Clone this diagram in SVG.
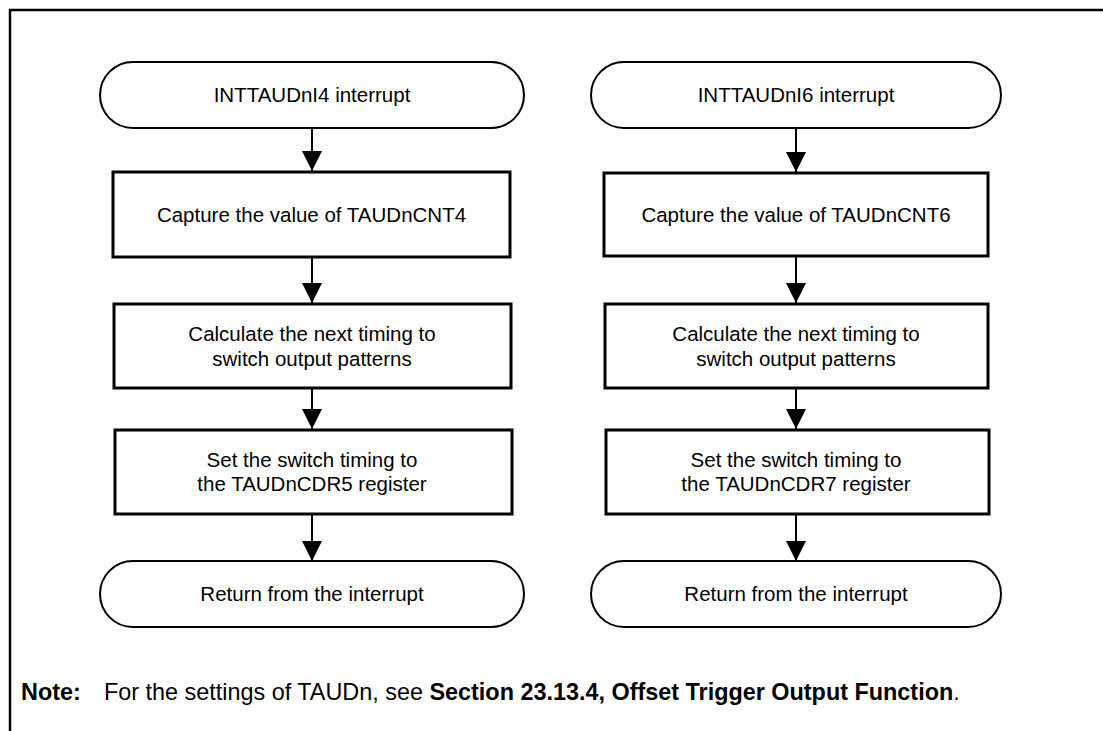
<svg xmlns="http://www.w3.org/2000/svg" width="1103" height="731" viewBox="0 0 1103 731">
<defs>
<style>
.term{fill:#fff;stroke:#000;stroke-width:2}
.box{fill:#fff;stroke:#000;stroke-width:3}
.lbl{font-family:"Liberation Sans",Arial,sans-serif;font-size:20.5px;fill:#000;text-anchor:middle}
.conn{stroke:#000;stroke-width:2;fill:none}
.note{font-family:"Liberation Sans",Arial,sans-serif;font-size:23.4px;fill:#000}
</style>
<marker id="ah" markerUnits="userSpaceOnUse" markerWidth="20" markerHeight="20" refX="20" refY="10" orient="auto" viewBox="0 0 20 20">
<path d="M0,0 L20,10 L0,20 z" fill="#000"/>
</marker>
</defs>
<rect width="1103" height="731" fill="#fff"/>
<path d="M10,731 L10,10 L1103,10" fill="none" stroke="#000" stroke-width="2.5"/>

<g id="connectors">
<line class="conn" x1="312" y1="128" x2="312" y2="171" marker-end="url(#ah)"/>
<line class="conn" x1="312" y1="257" x2="312" y2="303" marker-end="url(#ah)"/>
<line class="conn" x1="312" y1="388" x2="312" y2="429" marker-end="url(#ah)"/>
<line class="conn" x1="312" y1="514" x2="312" y2="561" marker-end="url(#ah)"/>
<line class="conn" x1="796" y1="128" x2="796" y2="172" marker-end="url(#ah)"/>
<line class="conn" x1="796" y1="256" x2="796" y2="303" marker-end="url(#ah)"/>
<line class="conn" x1="796" y1="388" x2="796" y2="429" marker-end="url(#ah)"/>
<line class="conn" x1="796" y1="514" x2="796" y2="561" marker-end="url(#ah)"/>
</g>

<g id="start4">
<rect class="term" x="100" y="62" width="424" height="66" rx="33" ry="33"/>
<text class="lbl" x="312" y="102">INTTAUDnI4 interrupt</text>
</g>
<g id="capture4">
<rect class="box" x="113" y="172" width="397" height="85"/>
<text class="lbl" x="311.5" y="222">Capture the value of TAUDnCNT4</text>
</g>
<g id="calc4">
<rect class="box" x="114" y="304" width="397" height="84"/>
<text class="lbl" x="312" y="340.5">Calculate the next timing to</text>
<text class="lbl" x="312" y="365.5">switch output patterns</text>
</g>
<g id="set5">
<rect class="box" x="115" y="430" width="397" height="84"/>
<text class="lbl" x="312" y="466.5">Set the switch timing to</text>
<text class="lbl" x="312" y="491">the TAUDnCDR5 register</text>
</g>
<g id="return4">
<rect class="term" x="100" y="561" width="424" height="66" rx="33" ry="33"/>
<text class="lbl" x="312" y="601">Return from the interrupt</text>
</g>

<g id="start6">
<rect class="term" x="591" y="62" width="410" height="66" rx="33" ry="33"/>
<text class="lbl" x="796" y="102">INTTAUDnI6 interrupt</text>
</g>
<g id="capture6">
<rect class="box" x="604" y="173" width="384" height="83"/>
<text class="lbl" x="796" y="222">Capture the value of TAUDnCNT6</text>
</g>
<g id="calc6">
<rect class="box" x="605" y="304" width="383" height="84"/>
<text class="lbl" x="796" y="340.5">Calculate the next timing to</text>
<text class="lbl" x="796" y="365.5">switch output patterns</text>
</g>
<g id="set7">
<rect class="box" x="606" y="430" width="383" height="84"/>
<text class="lbl" x="796" y="466.5">Set the switch timing to</text>
<text class="lbl" x="796" y="491">the TAUDnCDR7 register</text>
</g>
<g id="return6">
<rect class="term" x="591" y="561" width="410" height="66" rx="33" ry="33"/>
<text class="lbl" x="796" y="601">Return from the interrupt</text>
</g>

<g id="note">
<text class="note" x="21" y="700"><tspan font-weight="bold">Note:</tspan></text>
<text class="note" x="104" y="700">For the settings of TAUDn, see <tspan font-weight="bold">Section 23.13.4, Offset Trigger Output Function</tspan>.</text>
</g>
</svg>
